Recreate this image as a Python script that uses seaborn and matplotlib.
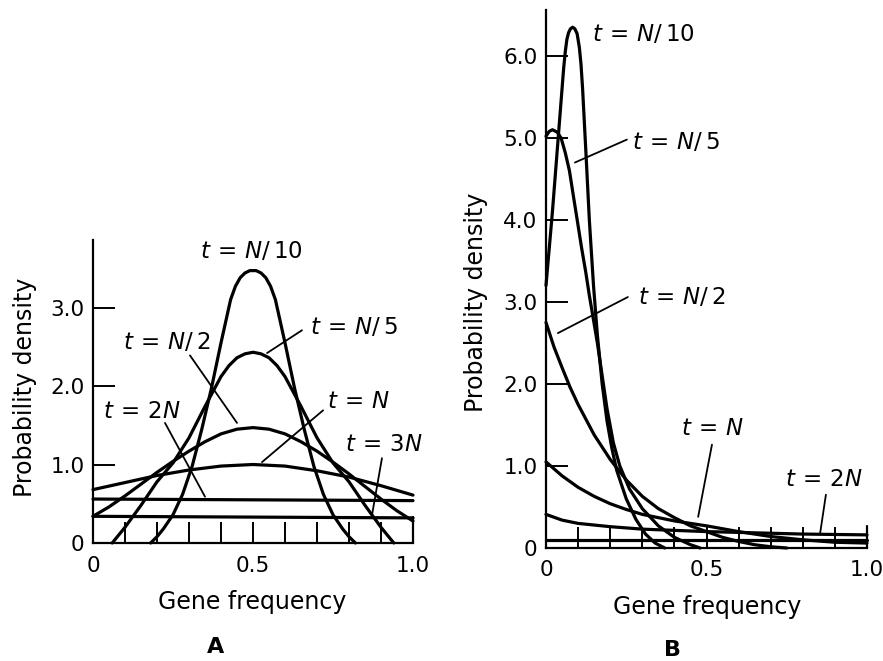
import numpy as np
import pandas as pd
import matplotlib
matplotlib.use("Agg")
import matplotlib.pyplot as plt
import seaborn as sns

# ---------------- data ----------------
# Panel A  (initial gene frequency 0.5)
a_n10_x = [0.18, 0.20, 0.22, 0.25, 0.28, 0.31, 0.34, 0.37, 0.40, 0.43, 0.445, 0.46, 0.475,
           0.49, 0.50, 0.51, 0.525, 0.54, 0.555, 0.57, 0.60, 0.63, 0.66, 0.69, 0.72,
           0.75, 0.78, 0.80, 0.82]
a_n10_y = [0.0, 0.08, 0.18, 0.36, 0.62, 0.98, 1.45, 1.97, 2.55, 3.1, 3.27, 3.38, 3.44,
           3.47, 3.47, 3.47, 3.44, 3.38, 3.27, 3.1, 2.55, 1.97, 1.45, 0.98, 0.62,
           0.36, 0.18, 0.08, 0.0]

a_n5_x = [0.06, 0.08, 0.10, 0.125, 0.15, 0.175, 0.20, 0.25, 0.30, 0.35, 0.40, 0.425, 0.45,
          0.475, 0.50, 0.525, 0.55, 0.575, 0.60, 0.65, 0.70, 0.75, 0.80, 0.825, 0.85,
          0.875, 0.90, 0.92, 0.94]
a_n5_y = [0.0, 0.1, 0.2, 0.34, 0.48, 0.63, 0.78, 1.02, 1.34, 1.74, 2.12, 2.26, 2.36,
          2.41, 2.43, 2.41, 2.36, 2.26, 2.12, 1.74, 1.34, 1.02, 0.78, 0.63, 0.48,
          0.34, 0.2, 0.1, 0.0]

a_n2_x = [0.0, 0.05, 0.10, 0.15, 0.20, 0.25, 0.30, 0.35, 0.40, 0.45, 0.50,
          0.55, 0.60, 0.65, 0.70, 0.75, 0.80, 0.85, 0.90, 0.95, 1.0]
a_n2_y = [0.34, 0.46, 0.6, 0.75, 0.9, 1.04, 1.17, 1.29, 1.39, 1.45, 1.47,
          1.45, 1.39, 1.29, 1.17, 1.03, 0.88, 0.72, 0.56, 0.41, 0.28]

a_n1_x = [0.0, 0.1, 0.2, 0.3, 0.4, 0.5, 0.6, 0.7, 0.8, 0.9, 1.0]
a_n1_y = [0.68, 0.77, 0.86, 0.93, 0.98, 1.0, 0.98, 0.92, 0.84, 0.73, 0.61]

a_2n_x = [0.0, 0.25, 0.5, 0.75, 1.0]
a_2n_y = [0.56, 0.555, 0.55, 0.545, 0.54]

a_3n_x = [0.0, 0.5, 1.0]
a_3n_y = [0.34, 0.33, 0.32]

# Panel B  (initial gene frequency 0.1)
b_n10_x = [0.0, 0.01, 0.02, 0.03, 0.04, 0.05, 0.055, 0.06, 0.065, 0.07, 0.076, 0.083,
           0.09, 0.097, 0.104, 0.109, 0.114, 0.124, 0.135, 0.148, 0.16, 0.175, 0.19,
           0.205, 0.22, 0.25, 0.28, 0.31, 0.34, 0.37]
b_n10_y = [3.2, 3.65, 4.1, 4.6, 5.1, 5.6, 5.85, 6.05, 6.2, 6.28, 6.33, 6.35,
           6.33, 6.27, 6.1, 5.9, 5.6, 4.85, 4.0, 3.2, 2.6, 2.0, 1.55,
           1.22, 0.95, 0.6, 0.35, 0.17, 0.06, 0.0]

b_n5_x = [0.0, 0.01, 0.02, 0.035, 0.047, 0.06, 0.073, 0.085, 0.098, 0.11, 0.124, 0.135,
          0.145, 0.16, 0.175, 0.19, 0.21, 0.23, 0.26, 0.30, 0.35, 0.40, 0.45, 0.48]
b_n5_y = [5.02, 5.08, 5.1, 5.07, 5.0, 4.82, 4.6, 4.3, 3.98, 3.68, 3.36, 3.08,
          2.85, 2.5, 2.1, 1.7, 1.28, 1.0, 0.72, 0.48, 0.27, 0.13, 0.04, 0.0]

b_n2_x = [0.0, 0.025, 0.05, 0.075, 0.10, 0.15, 0.20, 0.25, 0.30, 0.35, 0.40, 0.45,
          0.50, 0.55, 0.60, 0.65, 0.70, 0.75]
b_n2_y = [2.75, 2.45, 2.2, 1.96, 1.75, 1.38, 1.08, 0.83, 0.63, 0.48, 0.37, 0.27,
          0.2, 0.13, 0.08, 0.04, 0.015, 0.0]

b_n1_x = [0.0, 0.05, 0.10, 0.15, 0.20, 0.25, 0.30, 0.40, 0.50, 0.60, 0.70, 0.80, 0.90, 1.0]
b_n1_y = [1.05, 0.88, 0.74, 0.63, 0.54, 0.47, 0.41, 0.33, 0.27, 0.2, 0.14, 0.1, 0.07, 0.06]

b_2n_x = [0.0, 0.05, 0.10, 0.20, 0.30, 0.40, 0.50, 0.60, 0.70, 0.80, 0.90, 1.0]
b_2n_y = [0.41, 0.34, 0.3, 0.26, 0.23, 0.215, 0.2, 0.19, 0.18, 0.17, 0.165, 0.16]

b_3n_x = [0.0, 0.5, 1.0]
b_3n_y = [0.1, 0.1, 0.1]

x_tick_vals = [0.0, 0.1, 0.2, 0.3, 0.4, 0.5, 0.6, 0.7, 0.8, 0.9, 1.0]
x_tick_text = ["0", "", "", "", "", "0.5", "", "", "", "", "1.0"]
a_ytick_vals = [0, 1, 2, 3]
a_ytick_text = ["0", "1.0", "2.0", "3.0"]
b_ytick_vals = [0, 1, 2, 3, 4, 5, 6]
b_ytick_text = ["0", "1.0", "2.0", "3.0", "4.0", "5.0", "6.0"]

# label text, label position, leader line (data coordinates)
a_labels = [
    (r"$t\,=\,N/\,10$", (0.494, 3.71), None),
    (r"$t\,=\,N/\,5$", (0.815, 2.74), ((0.544, 2.42), (0.653, 2.71))),
    (r"$t\,=\,N/\,2$", (0.231, 2.56), ((0.303, 2.39), (0.45, 1.53))),
    (r"$t\,=\,2N$", (0.153, 1.67), ((0.225, 1.53), (0.35, 0.59))),
    (r"$t\,=\,N$", (0.831, 1.80), ((0.719, 1.69), (0.528, 1.03))),
    (r"$t\,=\,3N$", (0.909, 1.25), ((0.903, 1.08), (0.872, 0.36))),
]
b_labels = [
    (r"$t\,=\,N/\,10$", (0.302, 6.26), None),
    (r"$t\,=\,N/\,5$", (0.405, 4.94), ((0.09, 4.70), (0.252, 4.98))),
    (r"$t\,=\,N/\,2$", (0.424, 3.05), ((0.037, 2.62), (0.255, 3.06))),
    (r"$t\,=\,N$", (0.52, 1.46), ((0.517, 1.26), (0.474, 0.38))),
    (r"$t\,=\,2N$", (0.866, 0.83), ((0.872, 0.65), (0.854, 0.18))),
]

# ---------------- figure ----------------
sns.set_theme(style="ticks")
plt.rcParams['font.family'] = ['DejaVu Sans']
plt.rcParams['mathtext.fontset'] = 'dejavusans'
plt.rcParams['text.color'] = 'black'
plt.rcParams['axes.labelcolor'] = 'black'

W, H = 883, 661
fig = plt.figure(figsize=(W / 100, H / 100), dpi=100)
fig.patch.set_facecolor("white")


def px_axes(left, right, top, bottom):
    return fig.add_axes([left / W, 1 - bottom / H, (right - left) / W, (bottom - top) / H])


axA = px_axes(93, 413, 240, 543)
axB = px_axes(546, 867, 10, 548)

LW = 2.3


def draw(ax, curves, ymax, ytv, ytt, labels, edge_h):
    for xs, ys in curves:
        df = pd.DataFrame({"x": xs, "y": ys})
        sns.lineplot(data=df, x="x", y="y", ax=ax, color="black", lw=LW,
                     sort=False, clip_on=False)
    ax.set_xlim(0, 1)
    ax.set_ylim(0, ymax)
    ax.set_facecolor("white")
    ax.grid(False)
    for s in ["top", "right"]:
        ax.spines[s].set_visible(False)
    for s in ["left", "bottom"]:
        ax.spines[s].set_linewidth(1.6)
        ax.spines[s].set_color("black")
    ax.set_xticks(x_tick_vals)
    ax.set_xticklabels(x_tick_text)
    ax.set_yticks(ytv)
    ax.set_yticklabels(ytt)
    ax.tick_params(axis="x", direction="in", length=15, width=1.4, pad=9,
                   labelsize=15.5, colors="black")
    ax.tick_params(axis="y", direction="in", length=16, width=1.4, pad=6,
                   labelsize=15.5, colors="black")
    ax.set_xlabel("")
    ax.set_ylabel("")
    ax.plot([1, 1], [0, edge_h], color="black", lw=1.6, clip_on=False)
    for txt, (tx, ty), lead in labels:
        ax.text(tx, ty, txt, ha="center", va="center", fontsize=16.5, color="black")
        if lead is not None:
            (x0, y0), (x1, y1) = lead
            ax.plot([x0, x1], [y0, y1], color="black", lw=1.3, clip_on=False)


draw(axA,
     [(a_n10_x, a_n10_y), (a_n5_x, a_n5_y), (a_n2_x, a_n2_y),
      (a_n1_x, a_n1_y), (a_2n_x, a_2n_y), (a_3n_x, a_3n_y)],
     3.86, a_ytick_vals, a_ytick_text, a_labels, 0.33)
draw(axB,
     [(b_n10_x, b_n10_y), (b_n5_x, b_n5_y), (b_n2_x, b_n2_y),
      (b_n1_x, b_n1_y), (b_2n_x, b_2n_y), (b_3n_x, b_3n_y)],
     6.56, b_ytick_vals, b_ytick_text, b_labels, 0.27)

# axis titles and panel letters
fig.text(25 / W, 1 - 387 / H, "Probability density", rotation=90, ha="center",
         va="center", fontsize=17, color="black")
fig.text(476 / W, 1 - 302 / H, "Probability density", rotation=90, ha="center",
         va="center", fontsize=17, color="black")
fig.text(252 / W, 1 - 602 / H, "Gene frequency", ha="center", va="center",
         fontsize=17, color="black")
fig.text(707 / W, 1 - 607 / H, "Gene frequency", ha="center", va="center",
         fontsize=17, color="black")
fig.text(216 / W, 1 - 647 / H, "A", ha="center", va="center", fontsize=16,
         fontweight="bold", color="black")
fig.text(672 / W, 1 - 650 / H, "B", ha="center", va="center", fontsize=16,
         fontweight="bold", color="black")

fig.savefig("out.png", dpi=100, facecolor="white")
